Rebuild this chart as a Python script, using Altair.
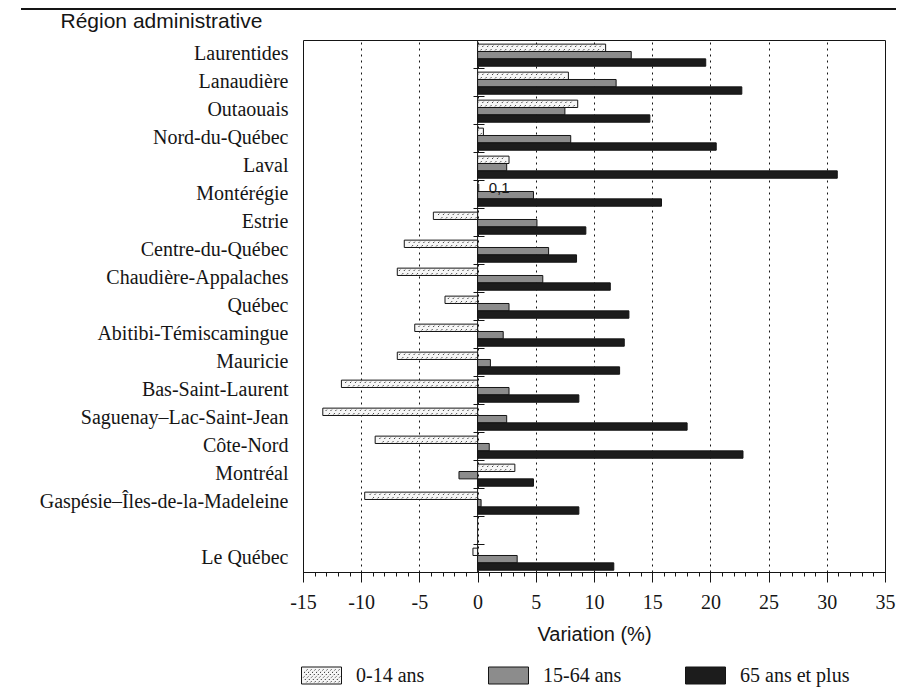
import altair as alt
import pandas as pd

# ---------------- data ----------------
regions = [
    "Laurentides", "Lanaudière", "Outaouais", "Nord-du-Québec", "Laval",
    "Montérégie", "Estrie", "Centre-du-Québec", "Chaudière-Appalaches",
    "Québec", "Abitibi-Témiscamingue", "Mauricie", "Bas-Saint-Laurent",
    "Saguenay–Lac-Saint-Jean", "Côte-Nord", "Montréal",
    "Gaspésie–Îles-de-la-Madeleine", "Le Québec",
]
v_0_14 = [11.0, 7.8, 8.6, 0.5, 2.7, 0.1, -3.8, -6.3, -6.9, -2.8, -5.4, -6.9,
          -11.7, -13.3, -8.8, 3.2, -9.7, -0.4]
v_15_64 = [13.2, 11.9, 7.5, 8.0, 2.5, 4.8, 5.1, 6.1, 5.6, 2.7, 2.2, 1.1,
           2.7, 2.5, 1.0, -1.6, 0.3, 3.4]
v_65 = [19.6, 22.7, 14.8, 20.5, 30.9, 15.8, 9.3, 8.5, 11.4, 13.0, 12.6, 12.2,
        8.7, 18.0, 22.8, 4.8, 8.7, 11.7]
groups = ["0-14 ans", "15-64 ans", "65 ans et plus"]
major_ticks = list(range(-15, 36, 5))
minor_ticks = list(range(-15, 36))

# category order (blank slot before the provincial total)
y_domain = regions[:17] + [" "] + regions[17:]

rows = []
for i, r in enumerate(regions):
    for g, vals in zip(groups, [v_0_14, v_15_64, v_65]):
        rows.append({"region": r, "groupe": g, "valeur": vals[i]})
df = pd.DataFrame(rows)

# ---------------- styles ----------------
W, H = 582, 532
SERIF = "Liberation Serif"
SANS = "Liberation Sans"
INK = "#151515"
fills = ["#f6f6f6", "#8c8c8c", "#1c1c1c"]


def hatch_symbol(w=1.0, h=0.425):
    parts = [f"M{-w},{-h}H{w}V{h}H{-w}Z"]
    c = -2.0
    while c < 2.0:
        y = h - 0.08
        while y > -h + 0.06:
            x = c - y
            if -w + 0.06 < x < w - 0.1:
                parts.append(f"M{x:.2f},{y:.2f}L{x + 0.05:.2f},{y - 0.05:.2f}")
            y -= 0.12
        c += 0.2
    return "".join(parts)


rect_symbol = "M-1,-0.425H1V0.425H-1Z"
bar_glyph = "M-0.9,-0.3L-0.5,-0.7M0.1,0.85L0.5,0.45"

y_scale = alt.Scale(domain=y_domain, paddingInner=0, paddingOuter=0)
off_scale = alt.Scale(domain=groups, paddingInner=0, paddingOuter=0.4, align=0.7)
x_scale = alt.Scale(domain=[-15, 35], nice=False, zero=False)
fill_scale = alt.Scale(domain=groups, range=fills)
stroke_scale = alt.Scale(domain=groups, range=[INK, INK, INK])
shape_scale = alt.Scale(domain=groups, range=[hatch_symbol(), rect_symbol, rect_symbol])

legend = alt.Legend(
    title=None, orient="none", legendX=-2, legendY=615, direction="horizontal",
    columns=3, columnPadding=61, symbolSize=1600, symbolStrokeColor=INK,
    symbolStrokeWidth=1, symbolOpacity=1, labelOffset=14, labelFont=SERIF,
    labelFontSize=20, labelColor=INK, padding=0, symbolLimit=0,
)

x_axis = alt.Axis(
    orient="bottom", values=major_ticks, tickSize=10, tickColor=INK,
    domainColor=INK, format="d",
    labelExpr="'' + datum.value",
    labelFont=SERIF, labelFontSize=20, labelColor=INK, labelPadding=10,
    labelOverlap=False, labelFlush=False, labelBound=False,
    grid=True, gridDash=[2, 4], gridColor=INK, gridWidth=1,
    title="Variation (%)", titleFont=SANS, titleFontSize=20,
    titleFontWeight="normal", titleColor=INK, titlePadding=12,
)

x_minor_axis = alt.Axis(
    orient="bottom", values=minor_ticks, tickSize=4, tickColor=INK,
    labels=False, domain=False, grid=False, title=None,
)

y_axis = alt.Axis(
    orient="left", ticks=False, domain=False, labelFont=SERIF, labelFontSize=20,
    labelColor=INK, labelPadding=15, labelLimit=400,
    title="Région administrative", titleAngle=0, titleAlign="left",
    titleBaseline="middle", titleX=-243, titleY=-19, titleFont=SANS,
    titleFontSize=21, titleFontWeight="normal", titleColor=INK,
)

tick_axis = alt.Axis(
    orient="left", offset=-181, labels=False, domain=False, grid=False,
    ticks=True, tickSize=11, tickBand="extent", tickColor=INK, tickWidth=1,
    title=None,
)

base = alt.Chart(df)

zero_line = alt.Chart(pd.DataFrame({"a": [0]})).mark_rule(
    color=INK, strokeWidth=1
).encode(x=alt.XDatum(0, type="quantitative", scale=x_scale, axis=None))

bars = base.mark_bar(stroke=INK, strokeWidth=1).encode(
    x=alt.X("valeur:Q", scale=x_scale, axis=x_axis),
    y=alt.Y("region:N", scale=y_scale, axis=y_axis),
    yOffset=alt.YOffset("groupe:N", scale=off_scale),
    fill=alt.Fill("groupe:N", scale=fill_scale, legend=legend),
)

hatch = base.transform_filter(
    "datum.groupe == '0-14 ans'"
).transform_calculate(
    hx="datum.valeur >= 0 ? sequence(0.22, datum.valeur - 0.25, 0.42) : sequence(-0.22, datum.valeur + 0.25, -0.42)"
).transform_flatten(["hx"]).mark_point(
    shape=bar_glyph, size=36, stroke="#2a2a2a", strokeWidth=1.0,
    filled=False, opacity=1,
).encode(
    x=alt.X("hx:Q", scale=x_scale, axis=x_minor_axis),
    y=alt.Y("region:N", scale=y_scale, axis=None),
    yOffset=alt.YOffset("groupe:N", scale=off_scale),
)

labels = base.transform_filter(
    "datum.groupe == '0-14 ans' && abs(datum.valeur) < 0.2"
).transform_calculate(
    lbl="replace(format(datum.valeur, '.1f'), '.', ',')"
).mark_text(
    align="left", baseline="middle", dx=10, font=SANS, fontSize=15, color=INK
).encode(
    x=alt.X("valeur:Q", scale=x_scale, axis=None),
    y=alt.Y("region:N", scale=y_scale, axis=tick_axis),
    yOffset=alt.YOffset("groupe:N", scale=off_scale),
    text="lbl:N",
)

legend_layer = base.mark_point(
    filled=True, opacity=0, size=1, strokeWidth=1
).encode(
    x=alt.X("valeur:Q", scale=x_scale, axis=None),
    y=alt.Y("region:N", scale=y_scale, axis=None),
    fill=alt.Fill("groupe:N", scale=fill_scale, legend=legend),
    stroke=alt.Stroke("groupe:N", scale=stroke_scale, legend=legend),
    shape=alt.Shape("groupe:N", scale=shape_scale, legend=legend),
)

top_rule = alt.Chart(pd.DataFrame({"a": [0]})).mark_rule(
    color=INK, strokeWidth=2
).encode(x=alt.value(-282), x2=alt.value(593), y=alt.value(-31))

chart = alt.layer(
    zero_line, bars, hatch, labels, legend_layer, top_rule
).resolve_axis(y="independent", x="independent").properties(
    width=W, height=H,
    autosize=alt.AutoSizeParams(type="none"),
    padding={"left": 295, "top": 32, "right": 11, "bottom": 118},
).configure(background="white").configure_view(
    stroke=INK, strokeWidth=1
).configure_axis(
    labelFont=SERIF
).configure_axisX(
    labelFont=SERIF, labelFontSize=20
).configure_axisBottom(
    labelFont=SERIF, labelFontSize=20
)

chart.save("out.html", embed_options={"renderer": "svg", "actions": False})
